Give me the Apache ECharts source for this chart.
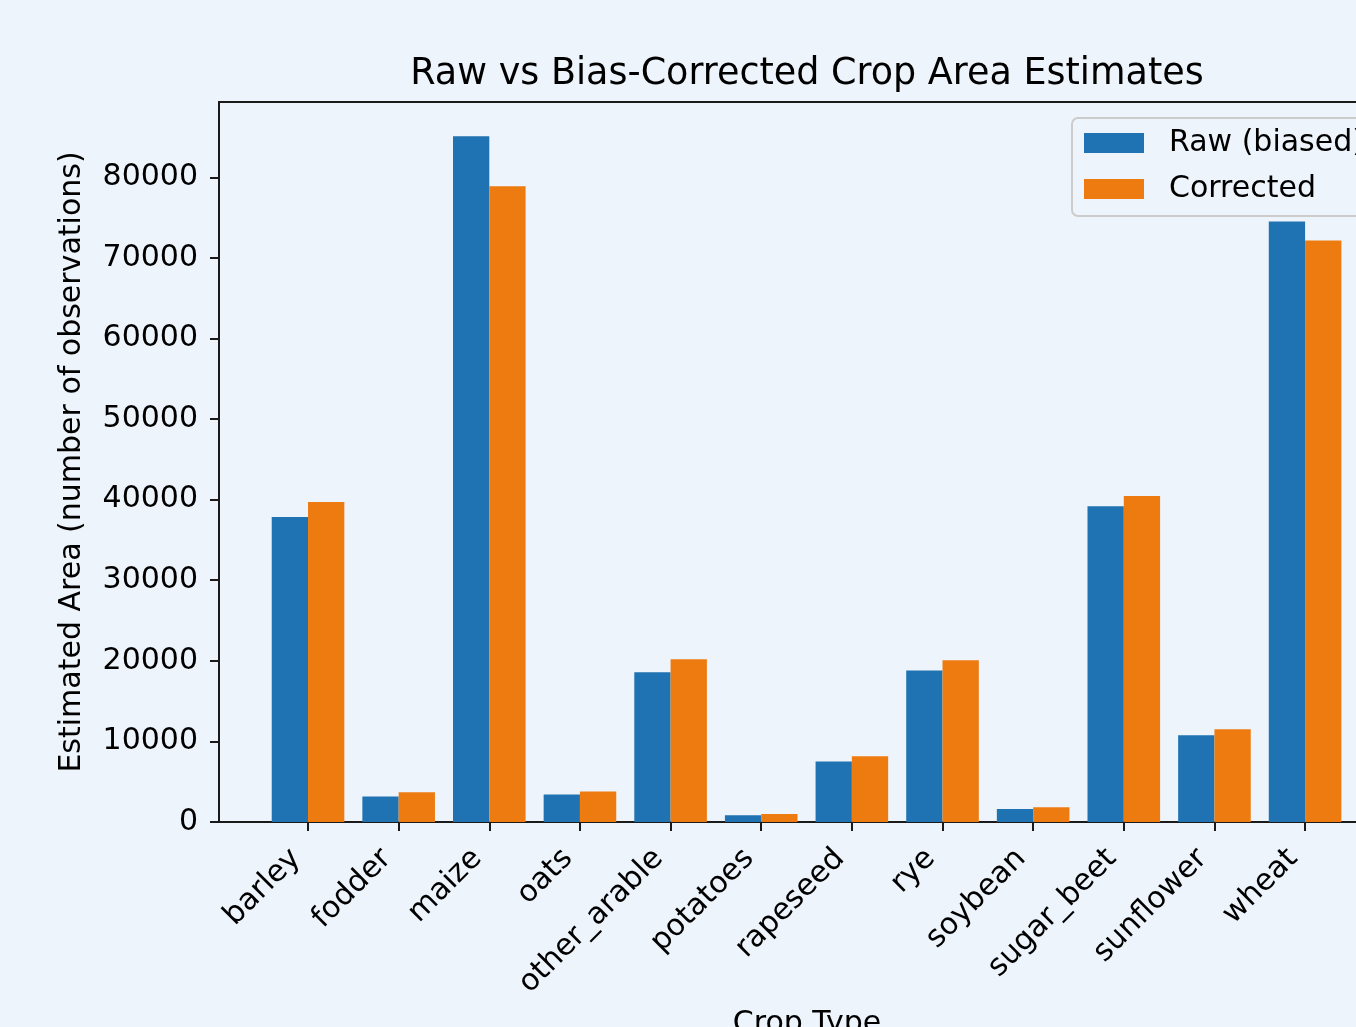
<!DOCTYPE html>
<html>
<head>
<meta charset="utf-8">
<script src="https://cdn.jsdelivr.net/npm/echarts@6/dist/echarts.min.js"></script>
<style>
html,body{margin:0;padding:0;overflow:hidden;background:#eef4fb;}
#chart{width:1400px;height:1027px;}
</style>
</head>
<body>
<div id="chart"></div>
<script>
const categories = ['barley','fodder','maize','oats','other_arable','potatoes','rapeseed','rye','soybean','sugar_beet','sunflower','wheat'];
const rawValues = [37850, 3150, 85090, 3400, 18590, 830, 7500, 18800, 1610, 39170, 10770, 74530];
const correctedValues = [39710, 3690, 78880, 3770, 20200, 990, 8160, 20080, 1820, 40450, 11510, 72170];
const yTicks = [0, 10000, 20000, 30000, 40000, 50000, 60000, 70000, 80000];
const seriesNames = ['Raw (biased)', 'Corrected'];

const FONT = 'DejaVu Sans';
const chart = echarts.init(document.getElementById('chart'));
const yMax = Math.max(...rawValues, ...correctedValues) * 1.05;

chart.setOption({
  animation: false,
  backgroundColor: '#eef4fb',
  textStyle: {fontFamily: FONT, color: '#000'},
  title: [
    {text: 'Raw vs Bias-Corrected Crop Area Estimates', left: 807, top: 56, textAlign: 'center', padding: 0,
     textStyle: {fontFamily: FONT, fontSize: 36.5, fontWeight: 'normal', color: '#000'}},
    {text: 'Crop Type', left: 807, top: 1009, textAlign: 'center', padding: 0,
     textStyle: {fontFamily: FONT, fontSize: 30, fontWeight: 'normal', color: '#000'}}
  ],
  legend: {
    orient: 'vertical', left: 1072, top: 118,
    itemWidth: 60, itemHeight: 20, itemGap: 16,
    padding: [10, 60, 12, 12],
    backgroundColor: '#eef4fb', borderColor: '#cccccc', borderWidth: 2, borderRadius: 6,
    selectedMode: false,
    icon: 'rect',
    textStyle: {fontFamily: FONT, fontSize: 30, lineHeight: 30, color: '#000', padding: [0, 0, 0, 20]},
    data: seriesNames
  },
  grid: [
    {left: 262.7, top: 102, width: 1087.7, height: 720},
    {left: 219, top: 102, width: 1176, height: 720, show: true, borderColor: '#1a1a1a', borderWidth: 2, backgroundColor: 'transparent'}
  ],
  xAxis: [
    {type: 'category', gridIndex: 0, data: categories,
     axisLine: {show: false},
     axisTick: {show: true, alignWithLabel: true, length: 9, lineStyle: {color: '#1a1a1a', width: 2}},
     axisLabel: {rotate: 45, interval: 0, fontFamily: FONT, fontSize: 30, color: '#000', margin: 20, padding: [0, 17, 0, 0]}},
    {type: 'value', gridIndex: 1, show: false}
  ],
  yAxis: [
    {type: 'value', gridIndex: 0, min: 0, max: yMax, offset: 43.7,
     name: 'Estimated Area (number of observations)', nameLocation: 'middle', nameGap: 132,
     nameTextStyle: {fontFamily: FONT, fontSize: 30, color: '#000'},
     splitLine: {show: false},
     axisLine: {show: false},
     axisTick: {show: true, length: 9, customValues: yTicks, lineStyle: {color: '#1a1a1a', width: 2}},
     axisLabel: {customValues: yTicks, formatter: v => String(v), fontFamily: FONT, fontSize: 30, color: '#000', margin: 21}},
    {type: 'value', gridIndex: 1, show: false}
  ],
  series: [
    {name: seriesNames[0], type: 'bar', xAxisIndex: 0, yAxisIndex: 0, data: rawValues,
     barWidth: 36.3, barGap: '0%', itemStyle: {color: '#1f73b2'}},
    {name: seriesNames[1], type: 'bar', xAxisIndex: 0, yAxisIndex: 0, data: correctedValues,
     barWidth: 36.3, barGap: '0%', itemStyle: {color: '#ee7b10'}}
  ]
});
</script>
</body>
</html>
